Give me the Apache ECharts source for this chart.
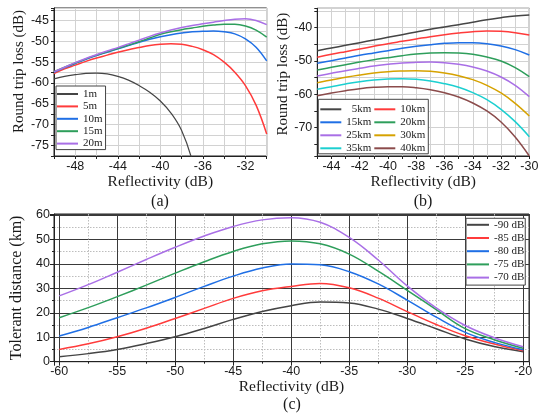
<!DOCTYPE html>
<html><head><meta charset="utf-8">
<script src="https://cdn.jsdelivr.net/npm/echarts@6/dist/echarts.min.js"></script>
<style>html,body{margin:0;padding:0;background:#fff}#c{width:540px;height:418px}</style>
</head><body><div id="c"></div>
<script>
// ---------- Panel (a): Round trip loss vs reflectivity, fiber length in m ----------
const xA = [-50,-49,-48,-47,-46,-45,-44,-43,-42,-41,-40,-39,-38,-37,-36,-35,-34,-33,-32,-31,-30];
const namesA = ['1m','5m','10m','15m','20m'];
const a1m  = [-59.0,-58.4,-58.0,-57.7,-57.6,-57.8,-58.4,-59.3,-60.6,-62.2,-64.3,-67.2,-71.4,-78.6,-90.0];
const a5m  = [-57.7,-56.6,-55.7,-54.8,-54.0,-53.3,-52.6,-52.0,-51.5,-51.0,-50.7,-50.6,-50.7,-51.2,-52.0,-53.2,-55.0,-57.4,-60.6,-65.3,-72.2];
const a10m = [-57.4,-56.3,-55.3,-54.3,-53.4,-52.6,-51.8,-51.0,-50.2,-49.5,-48.9,-48.4,-48.0,-47.7,-47.6,-47.5,-47.7,-48.2,-49.4,-51.4,-54.7];
const a15m = [-57.3,-56.2,-55.2,-54.2,-53.3,-52.5,-51.7,-50.9,-50.1,-49.2,-48.3,-47.7,-47.2,-46.8,-46.4,-46.1,-45.9,-45.9,-46.3,-47.3,-49.0];
const a20m = [-57.3,-56.2,-55.1,-54.1,-53.2,-52.3,-51.5,-50.6,-49.7,-48.8,-48.0,-47.3,-46.7,-46.2,-45.8,-45.4,-45.0,-44.7,-44.6,-45.0,-46.0];

// ---------- Panel (b): Round trip loss vs reflectivity, fiber length in km ----------
const xB = [-45,-44,-43,-42,-41,-40,-39,-38,-37,-36,-35,-34,-33,-32,-31,-30];
const namesB = ['5km','10km','15km','20km','25km','30km','35km','40km'];
const b5  = [-46.9,-46.1,-45.3,-44.5,-43.7,-42.9,-42.1,-41.3,-40.5,-39.8,-39.1,-38.4,-37.6,-37.0,-36.5,-36.2];
const b10 = [-48.9,-48.0,-47.2,-46.4,-45.6,-44.8,-44.1,-43.4,-42.7,-42.1,-41.6,-41.2,-41.0,-41.1,-41.5,-42.2];
const b15 = [-50.7,-49.9,-49.1,-48.3,-47.6,-46.9,-46.2,-45.6,-45.1,-44.7,-44.5,-44.5,-44.8,-45.5,-46.6,-48.2];
const b20 = [-52.7,-51.9,-51.1,-50.3,-49.6,-49.0,-48.4,-47.9,-47.6,-47.5,-47.6,-48.0,-48.8,-50.0,-52.0,-54.7];
const b25 = [-54.5,-53.7,-52.9,-52.2,-51.5,-51.0,-50.6,-50.4,-50.3,-50.5,-51.0,-51.8,-53.0,-54.8,-57.3,-60.7];
const b30 = [-56.5,-55.7,-54.9,-54.2,-53.6,-53.2,-53.0,-52.9,-53.1,-53.6,-54.4,-55.6,-57.3,-59.6,-62.7,-66.5];
const b35 = [-58.5,-57.7,-56.9,-56.2,-55.7,-55.4,-55.3,-55.5,-56.0,-56.8,-57.9,-59.5,-61.6,-64.5,-68.2,-72.7];
const b40 = [-60.4,-59.6,-58.9,-58.3,-57.9,-57.7,-57.7,-58.0,-58.6,-59.5,-60.8,-62.6,-65.0,-68.3,-72.8,-78.5];

// ---------- Panel (c): Tolerant distance vs reflectivity ----------
const xC = [-60,-57.5,-55,-52.5,-50,-47.5,-45,-42.5,-40,-37.5,-35,-32.5,-30,-27.5,-25,-22.5,-20];
const namesC = ['-90 dB','-85 dB','-80 dB','-75 dB','-70 dB'];
const c90 = [2.0,3.3,5.0,7.4,10.2,13.6,17.3,20.5,22.9,24.4,24.0,21.5,17.7,13.5,9.3,6.2,4.1];
const c85 = [5.0,7.3,10.2,13.7,17.7,21.8,25.9,29.0,30.8,32.0,30.2,26.0,20.5,15.2,10.6,7.2,4.5];
const c80 = [10.5,14.0,18.0,22.0,26.3,30.8,35.0,38.3,40.0,39.6,36.8,31.8,25.2,18.2,12.0,7.9,4.9];
const c75 = [18.0,22.1,26.6,31.3,36.2,40.9,45.1,48.2,49.4,48.2,44.0,37.0,29.2,21.3,13.5,9.0,5.5];
const c70 = [26.9,31.5,36.6,41.8,46.8,51.4,55.3,58.0,58.9,57.0,50.8,41.6,31.0,22.0,14.8,9.8,6.1];

const colors5 = ['#454545','#ff3b3b','#1f6fe5','#2e9e5b','#a96fe6'];
const colorsB = ['#454545','#ff3b3b','#1f6fe5','#2e9e5b','#a96fe6','#d6a200','#1ccfd0','#8b4b4b'];

const SANS = '"Liberation Sans", Arial, sans-serif';
const SERIF = '"Liberation Serif", "Times New Roman", serif';
const TXT = '#1a1a1a';

function pairs(xs, ys) { return ys.map((v, i) => [xs[i], v]); }

const seriesA = [a1m, a5m, a10m, a15m, a20m].map((d, i) => ({
  name: namesA[i], type: 'line', xAxisIndex: 0, yAxisIndex: 0, data: pairs(xA, d),
  smooth: 0.4, symbol: 'none', showSymbol: false, clip: true,
  lineStyle: { width: i === 0 ? 1.2 : 1.5, color: colors5[i] }, itemStyle: { color: colors5[i] }
}));
const seriesB = [b5, b10, b15, b20, b25, b30, b35, b40].map((d, i) => ({
  name: namesB[i], type: 'line', xAxisIndex: 1, yAxisIndex: 1, data: pairs(xB, d),
  smooth: 0.4, symbol: 'none', showSymbol: false, clip: true,
  lineStyle: { width: 1.5, color: colorsB[i] }, itemStyle: { color: colorsB[i] }
}));
const seriesC = [c90, c85, c80, c75, c70].map((d, i) => ({
  name: namesC[i], type: 'line', xAxisIndex: 2, yAxisIndex: 2, data: pairs(xC, d),
  smooth: 0.4, symbol: 'none', showSymbol: false, clip: true,
  lineStyle: { width: 1.5, color: colors5[i] }, itemStyle: { color: colors5[i] }
}));

const lightGrid = { show: true, lineStyle: { color: '#d2d2d2', width: 1 } };
const tick = { show: true, inside: false, length: 3, lineStyle: { color: '#222' } };
const aline = { show: true, lineStyle: { color: '#222' } };

const chart = echarts.init(document.getElementById('c'), null, { renderer: 'canvas' });
chart.setOption({
  animation: false,
  backgroundColor: '#fff',
  grid: [
    { left: 54, top: 8, width: 212.7, height: 148, show: true, borderColor: '#222', borderWidth: 1, containLabel: false, outerBoundsMode: 'none' },
    { left: 317.3, top: 8.3, width: 212, height: 147.7, show: true, borderColor: '#222', borderWidth: 1, containLabel: false, outerBoundsMode: 'none' },
    { left: 54, top: 214, width: 475, height: 147.7, show: true, borderColor: '#222', borderWidth: 1, containLabel: false, outerBoundsMode: 'none' }
  ],
  xAxis: [
    { gridIndex: 0, type: 'value', min: -50, max: -30, interval: 2,
      axisLine: aline, axisTick: tick, splitLine: lightGrid,
      axisLabel: { fontFamily: SANS, fontSize: 12.5, color: TXT, margin: 4,
        formatter: v => ((Math.round(v) + 48) % 4 === 0 ? String(v) : '') },
      name: 'Reflectivity (dB)', nameLocation: 'middle', nameGap: 18,
      nameTextStyle: { fontFamily: SERIF, fontSize: 15.5, color: TXT } },
    { gridIndex: 1, type: 'value', min: -45, max: -30, interval: 1,
      axisLine: aline, axisTick: tick, splitLine: lightGrid,
      axisLabel: { fontFamily: SANS, fontSize: 12.5, color: TXT, margin: 4,
        formatter: v => (Math.round(v) % 2 === 0 ? String(v) : '') },
      name: 'Reflectivity (dB)', nameLocation: 'middle', nameGap: 18,
      nameTextStyle: { fontFamily: SERIF, fontSize: 15.5, color: TXT } },
    { gridIndex: 2, type: 'value', min: -60.45, max: -19.5, splitNumber: 8,
      axisLine: aline, axisTick: { show: true, length: 4, lineStyle: { color: '#222' } },
      minorTick: { show: true, splitNumber: 2, length: 2, lineStyle: { color: '#222' } },
      splitLine: { show: true, lineStyle: { color: '#3a3a3a', width: 1 } },
      minorSplitLine: { show: true, lineStyle: { color: '#bdbdbd', width: 1, type: [1.5, 1.5] } },
      axisLabel: { fontFamily: SANS, fontSize: 12.5, color: TXT, margin: 3,
        formatter: v => (Math.abs(v % 5) < 1e-6 ? String(v) : '') },
      name: 'Reflectivity (dB)', nameLocation: 'middle', nameGap: 15,
      nameTextStyle: { fontFamily: SERIF, fontSize: 15.5, color: TXT } }
  ],
  yAxis: [
    { gridIndex: 0, type: 'value', min: -77.5, max: -42, interval: 2.5,
      axisLine: aline, axisTick: tick, splitLine: lightGrid,
      axisLabel: { fontFamily: SANS, fontSize: 12.5, color: TXT, margin: 5,
        formatter: v => (Math.abs(v % 5) < 1e-6 ? String(v) : '') },
      name: 'Round trip loss (dB)', nameLocation: 'middle', nameGap: 22,
      nameTextStyle: { fontFamily: SERIF, fontSize: 15, color: TXT, padding: [0, 0, 0, 21] } },
    { gridIndex: 1, type: 'value', min: -78.5, max: -34.2, splitNumber: 9,
      axisLine: aline, axisTick: tick, splitLine: lightGrid,
      axisLabel: { fontFamily: SANS, fontSize: 12.5, color: TXT, margin: 5,
        formatter: v => (Math.abs(v % 10) < 1e-6 ? String(v) : '') },
      name: 'Round trip loss (dB)', nameLocation: 'middle', nameGap: 24,
      nameTextStyle: { fontFamily: SERIF, fontSize: 15, color: TXT, padding: [0, 0, 0, 16] } },
    { gridIndex: 2, type: 'value', min: 0, max: 60.4, interval: 10,
      axisLine: aline, axisTick: { show: true, length: 4, lineStyle: { color: '#222' } },
      minorTick: { show: true, splitNumber: 2, length: 2, lineStyle: { color: '#222' } },
      splitLine: { show: true, lineStyle: { color: '#3a3a3a', width: 1 } },
      minorSplitLine: { show: true, lineStyle: { color: '#bdbdbd', width: 1, type: [1.5, 1.5] } },
      axisLabel: { fontFamily: SANS, fontSize: 12.5, color: TXT, margin: 4,
        formatter: v => (Math.abs(v % 10) < 1e-6 ? String(v) : '') },
      name: 'Tolerant distance (km)', nameLocation: 'middle', nameGap: 21,
      nameTextStyle: { fontFamily: SERIF, fontSize: 16, color: TXT } }
  ],
  legend: [
    { data: namesA, orient: 'vertical', left: 56, top: 86, selectedMode: false,
      icon: 'rect', itemWidth: 21, itemHeight: 2, itemGap: 0.4,
      padding: [2, 3, 0, 1], backgroundColor: '#fff', borderColor: '#444', borderWidth: 1, borderRadius: 0,
      textStyle: { fontFamily: SERIF, fontSize: 11, color: TXT, lineHeight: 12 } },
    { data: namesB, orient: 'horizontal', left: 318.3, top: 99.3, width: 108, selectedMode: false,
      icon: 'rect', itemWidth: 21, itemHeight: 2, itemGap: 2,
      padding: [4.5, 2, 0, 2], backgroundColor: '#fff', borderColor: '#444', borderWidth: 1, borderRadius: 0,
      formatter: n => (n.length < 4 ? '  ' + n : n),
      textStyle: { fontFamily: SERIF, fontSize: 11, color: TXT, lineHeight: 10, width: 26 } },
    { data: namesC, orient: 'vertical', left: 466, top: 218.3, selectedMode: false,
      icon: 'rect', itemWidth: 22, itemHeight: 2, itemGap: 0.2,
      padding: [0, 1, 1, 1], backgroundColor: '#fff', borderColor: '#444', borderWidth: 1, borderRadius: 0,
      textStyle: { fontFamily: SERIF, fontSize: 11, color: TXT, lineHeight: 13 } }
  ],
  graphic: [
    { type: 'text', x: 160, y: 202, style: { text: '(a)', font: '16px ' + SERIF, fill: TXT, align: 'center', verticalAlign: 'middle' } },
    { type: 'text', x: 423, y: 202, style: { text: '(b)', font: '16px ' + SERIF, fill: TXT, align: 'center', verticalAlign: 'middle' } },
    { type: 'text', x: 292, y: 405, style: { text: '(c)', font: '16px ' + SERIF, fill: TXT, align: 'center', verticalAlign: 'middle' } }
  ],
  series: [...seriesA, ...seriesB, ...seriesC]
});
</script>
</body></html>
